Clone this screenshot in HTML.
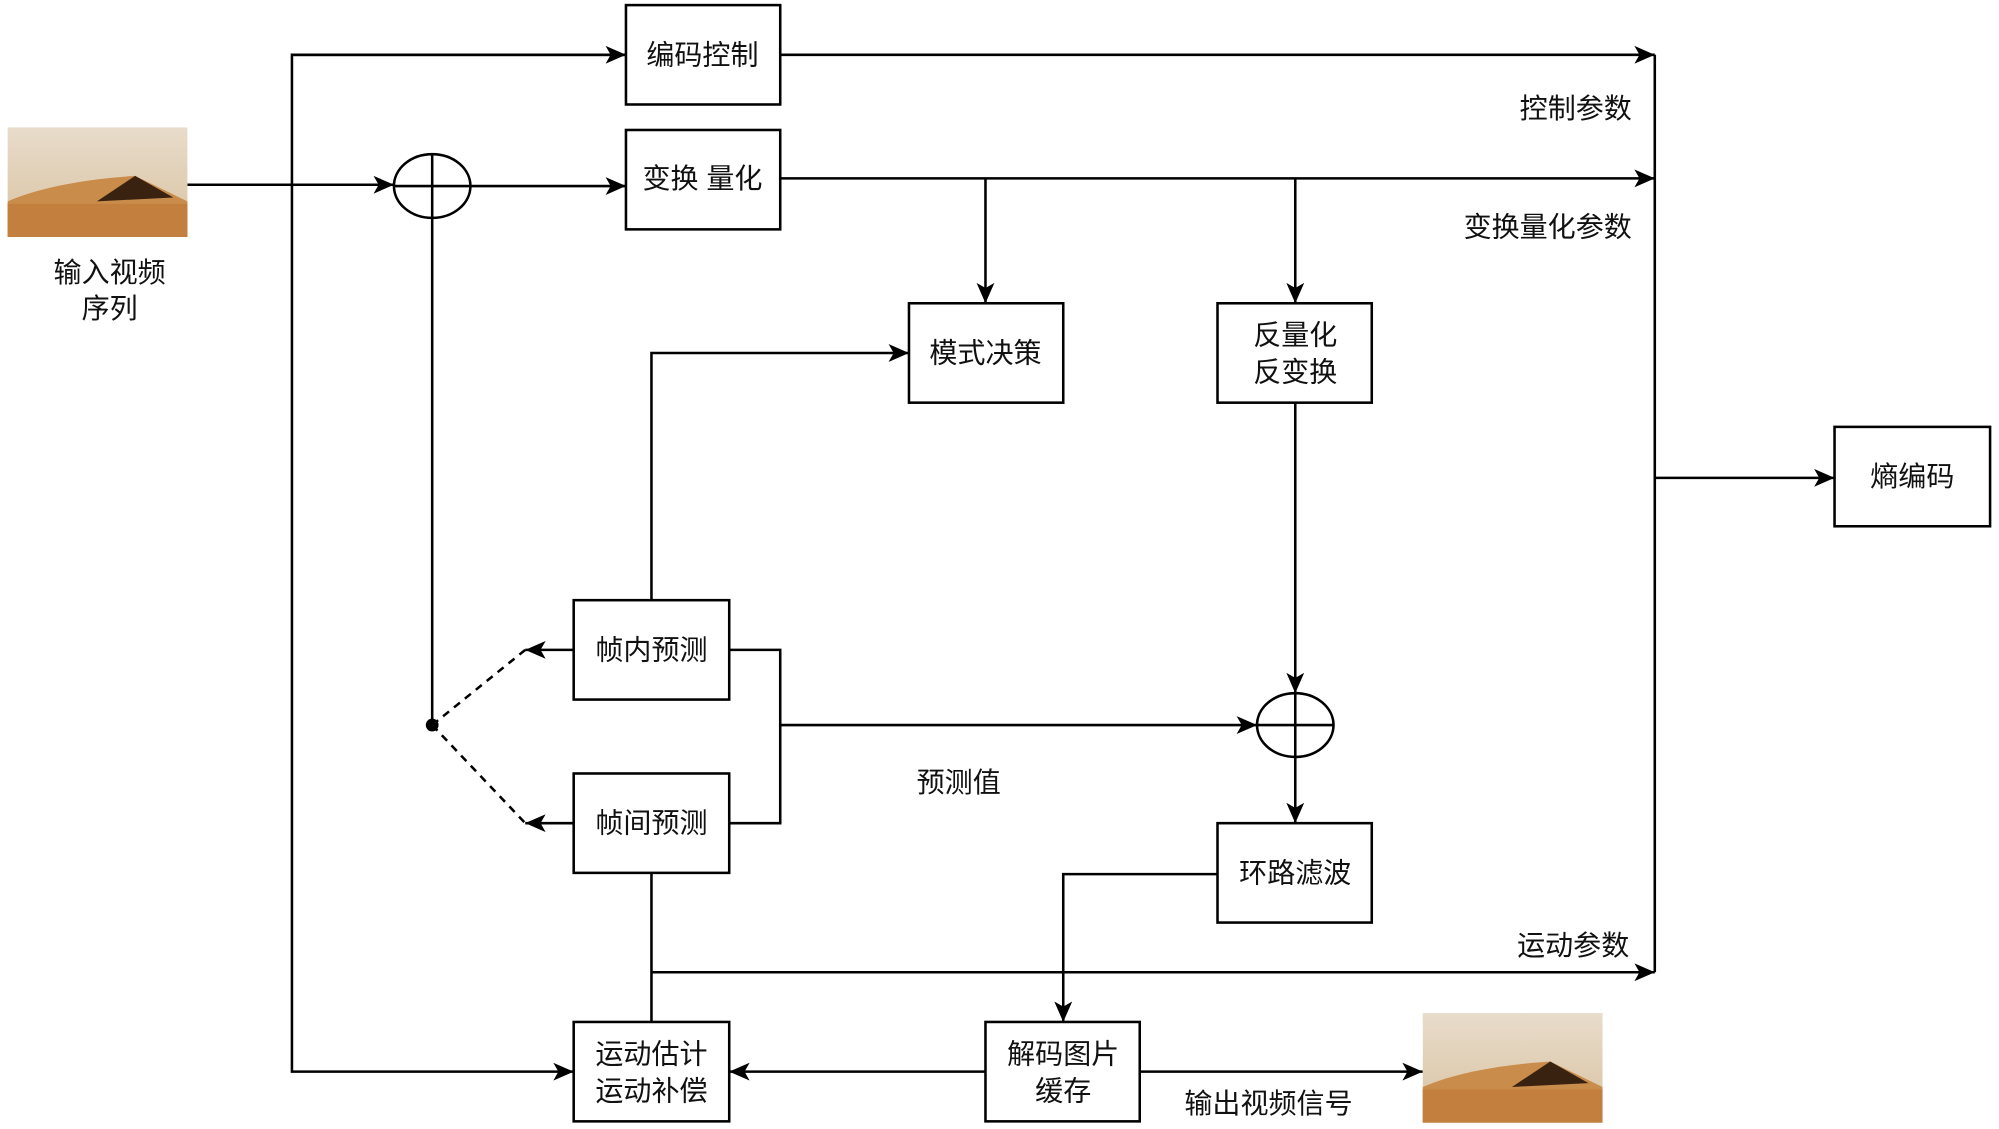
<!DOCTYPE html>
<html><head><meta charset="utf-8"><style>
html,body{margin:0;padding:0;background:#fff;}
svg{display:block}
text{font-family:"Liberation Sans","Noto Sans CJK SC",sans-serif;font-size:22px;fill:#111;text-anchor:middle;dominant-baseline:central}
</style></head><body>
<svg width="1999" height="1129" viewBox="0 0 1568 886" preserveAspectRatio="none" xmlns="http://www.w3.org/2000/svg">
<defs>
<marker id="a" viewBox="0 0 16 14" refX="16" refY="7" markerWidth="16" markerHeight="14" markerUnits="userSpaceOnUse" orient="auto"><path d="M0,0 L16,7 L0,14 L4,7 z" fill="#000"/></marker>
<linearGradient id="sky" x1="0" y1="0" x2="0" y2="1"><stop offset="0" stop-color="#e8dccb"/><stop offset="1" stop-color="#d9c2a0"/></linearGradient>
<g id="dune">
<rect x="0" y="0" width="141" height="86" fill="url(#sky)"/>
<path d="M0,58 C30,45 70,40 100,38 L141,58 L141,86 L0,86 z" fill="#c98c4a"/>
<path d="M100,38 L130,55 L70,58 z" fill="#3a2210"/>
<rect x="0" y="60" width="141" height="26" fill="#c27f3e"/>
</g>
</defs>
<g fill="none" stroke="#000" stroke-width="2">
<rect x="491" y="4" width="121" height="78"/>
<rect x="491" y="102" width="121" height="78"/>
<rect x="713" y="238" width="121" height="78"/>
<rect x="955" y="238" width="121" height="78"/>
<rect x="1439" y="335" width="122" height="78"/>
<rect x="450" y="471" width="122" height="78"/>
<rect x="450" y="607" width="122" height="78"/>
<rect x="955" y="646" width="121" height="78"/>
<rect x="450" y="802" width="122" height="78"/>
<rect x="773" y="802" width="121" height="78"/>
<ellipse cx="339" cy="146" rx="30" ry="25"/>
<line x1="309" y1="146" x2="369" y2="146"/><line x1="339" y1="121" x2="339" y2="171"/>
<ellipse cx="1016" cy="569" rx="30" ry="25"/>
<line x1="986" y1="569" x2="1046" y2="569"/><line x1="1016" y1="544" x2="1016" y2="594"/>
<polyline points="491,43 229,43 229,841 450,841" marker-end="url(#a)"/>
<line x1="229" y1="43" x2="491" y2="43" marker-end="url(#a)"/>
<line x1="147" y1="145" x2="309" y2="145" marker-end="url(#a)"/>
<line x1="369" y1="146" x2="491" y2="146" marker-end="url(#a)"/>
<line x1="612" y1="43" x2="1298" y2="43" marker-end="url(#a)"/>
<line x1="612" y1="140" x2="1298" y2="140" marker-end="url(#a)"/>
<line x1="773" y1="140" x2="773" y2="238" marker-end="url(#a)"/>
<line x1="1016" y1="140" x2="1016" y2="238" marker-end="url(#a)"/>
<line x1="1298" y1="43" x2="1298" y2="763"/>
<line x1="1298" y1="375" x2="1439" y2="375" marker-end="url(#a)"/>
<line x1="339" y1="171" x2="339" y2="569"/>
<line x1="339" y1="569" x2="412" y2="510" stroke-dasharray="6,5"/>
<line x1="339" y1="569" x2="412" y2="646" stroke-dasharray="6,5"/>
<line x1="450" y1="510" x2="412" y2="510" marker-end="url(#a)"/>
<line x1="450" y1="646" x2="412" y2="646" marker-end="url(#a)"/>
<polyline points="511,471 511,277 713,277" marker-end="url(#a)"/>
<polyline points="572,510 612,510 612,646 572,646"/>
<line x1="612" y1="569" x2="986" y2="569" marker-end="url(#a)"/>
<line x1="1016" y1="316" x2="1016" y2="544" marker-end="url(#a)"/>
<line x1="1016" y1="594" x2="1016" y2="646" marker-end="url(#a)"/>
<polyline points="955,686 834,686 834,802" marker-end="url(#a)"/>
<line x1="511" y1="685" x2="511" y2="802"/>
<line x1="511" y1="763" x2="1298" y2="763" marker-end="url(#a)"/>
<line x1="773" y1="841" x2="572" y2="841" marker-end="url(#a)"/>
<line x1="894" y1="841" x2="1116" y2="841" marker-end="url(#a)"/>
</g>
<circle cx="339" cy="569" r="5" fill="#000"/>
<use href="#dune" x="6" y="100"/>
<use href="#dune" x="1116" y="795"/>
<text x="551" y="43">编码控制</text>
<text x="551" y="140">变换 量化</text>
<text x="773" y="277">模式决策</text>
<text x="1016" y="263">反量化</text>
<text x="1016" y="292">反变换</text>
<text x="1500" y="374">熵编码</text>
<text x="511" y="510">帧内预测</text>
<text x="511" y="646">帧间预测</text>
<text x="1016" y="685">环路滤波</text>
<text x="511" y="827">运动估计</text>
<text x="511" y="856">运动补偿</text>
<text x="834" y="827">解码图片</text>
<text x="834" y="856">缓存</text>
<text x="1236" y="85">控制参数</text>
<text x="1214" y="178">变换量化参数</text>
<text x="1234" y="742">运动参数</text>
<text x="752" y="614">预测值</text>
<text x="995" y="866">输出视频信号</text>
<text x="86" y="214">输入视频</text>
<text x="86" y="242">序列</text>
</svg>
</body></html>
